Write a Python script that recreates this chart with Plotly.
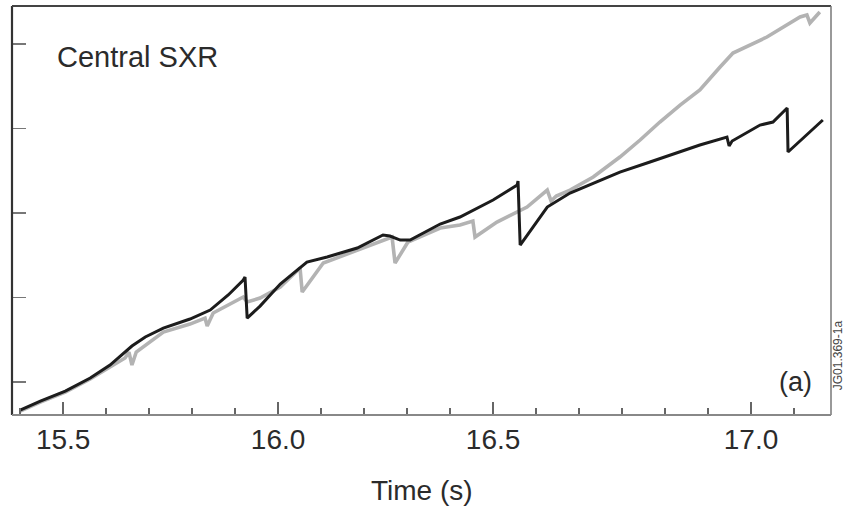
import plotly.graph_objects as go

# Black trace (sawtooth signal)
black_t = [15.400, 15.447, 15.505, 15.563, 15.609, 15.644, 15.660, 15.691, 15.733, 15.795,
           15.842, 15.884, 15.919, 15.923, 15.928, 15.958, 16.005, 16.067, 16.114, 16.184,
           16.244, 16.260, 16.284, 16.307, 16.377, 16.423, 16.500, 16.556, 16.558, 16.563,
           16.626, 16.679, 16.733, 16.795, 16.865, 16.935, 16.981, 17.044, 17.049, 17.056,
           17.121, 17.151, 17.184, 17.186, 17.226, 17.267]
black_v = [0.669, 0.775, 0.893, 1.047, 1.201, 1.355, 1.426, 1.533, 1.639, 1.746,
           1.852, 2.030, 2.207, 2.243, 1.757, 1.899, 2.160, 2.420, 2.479, 2.586,
           2.740, 2.728, 2.680, 2.680, 2.870, 2.953, 3.154, 3.331, 3.379, 2.621,
           3.071, 3.237, 3.355, 3.485, 3.604, 3.722, 3.805, 3.899, 3.793, 3.852,
           4.041, 4.077, 4.243, 3.722, 3.911, 4.101]

# Grey trace
grey_t = [15.400, 15.447, 15.505, 15.563, 15.609, 15.644, 15.653, 15.660, 15.670, 15.733,
          15.795, 15.830, 15.835, 15.849, 15.919, 15.928, 15.958, 16.005, 16.051, 16.056,
          16.105, 16.156, 16.214, 16.265, 16.272, 16.302, 16.377, 16.423, 16.453, 16.458,
          16.509, 16.579, 16.626, 16.635, 16.647, 16.679, 16.733, 16.795, 16.842, 16.888,
          16.935, 16.981, 17.028, 17.058, 17.137, 17.214, 17.230, 17.237, 17.260]
grey_v = [0.657, 0.763, 0.882, 1.036, 1.178, 1.284, 1.355, 1.201, 1.355, 1.592,
          1.686, 1.757, 1.663, 1.817, 2.006, 1.947, 1.994, 2.124, 2.349, 2.065,
          2.408, 2.503, 2.621, 2.716, 2.408, 2.657, 2.822, 2.858, 2.905, 2.716,
          2.893, 3.071, 3.272, 3.142, 3.201, 3.272, 3.426, 3.663, 3.864, 4.077,
          4.278, 4.456, 4.728, 4.893, 5.083, 5.320, 5.343, 5.249, 5.379]

x_tickvals = [15.5, 16.0, 16.5, 17.1]
x_ticktext = ["15.5", "16.0", "16.5", "17.0"]
y_tickvals = [1, 2, 3, 4, 5]

FONT = "Liberation Sans, Arial, sans-serif"
TXT = "#2b2b2b"

fig = go.Figure()
fig.add_trace(go.Scatter(x=grey_t, y=grey_v, mode="lines",
                         line=dict(color="#b3b3b3", width=3.6), hoverinfo="skip"))
fig.add_trace(go.Scatter(x=black_t, y=black_v, mode="lines",
                         line=dict(color="#1c1c1c", width=3.0), hoverinfo="skip"))

fig.update_layout(
    width=847, height=509,
    margin=dict(l=12, r=16, t=6, b=94),
    paper_bgcolor="white", plot_bgcolor="white",
    showlegend=False,
    font=dict(family=FONT, color=TXT),
    xaxis=dict(range=[15.381, 17.286], showgrid=False, zeroline=False,
               showline=False, tickmode="array", tickvals=x_tickvals, ticktext=x_ticktext,
               ticks="inside", ticklen=13, tickwidth=1.5, tickcolor="#666",
               tickfont=dict(size=28, family=FONT, color=TXT), ticklabelstandoff=5,
               minor=dict(tickmode="linear", tick0=15.4, dtick=0.1, ticks="inside",
                          ticklen=7, tickwidth=1.5, tickcolor="#666")),
    yaxis=dict(range=[0.61, 5.45], showgrid=False, zeroline=False, showline=False,
               tickmode="array", tickvals=y_tickvals, showticklabels=False,
               ticks="inside", ticklen=14, tickwidth=1.2, tickcolor="#777"),
    shapes=[
        dict(type="line", xref="paper", yref="paper", x0=0, x1=0, y0=0, y1=1,
             line=dict(color="#333", width=2.2)),
        dict(type="line", xref="paper", yref="paper", x0=0, x1=1, y0=1, y1=1,
             line=dict(color="#444", width=2)),
        dict(type="line", xref="paper", yref="paper", x0=1, x1=1, y0=0, y1=1,
             line=dict(color="#777", width=1.5)),
        dict(type="line", xref="paper", yref="paper", x0=0, x1=1, y0=0, y1=0,
             line=dict(color="#888", width=2)),
    ],
    annotations=[
        dict(text="Central SXR", xref="paper", yref="paper", x=0.052, y=0.875,
             xanchor="left", yanchor="middle", showarrow=False,
             font=dict(size=29, family=FONT, color=TXT)),
        dict(text="(a)", xref="paper", yref="paper", x=0.957, y=0.08,
             xanchor="center", yanchor="middle", showarrow=False,
             font=dict(size=27, family=FONT, color=TXT)),
        dict(text="Time (s)", xref="paper", yref="paper", x=0.5, y=-0.185,
             xanchor="center", yanchor="middle", showarrow=False,
             font=dict(size=28, family=FONT, color=TXT)),
        dict(text="JG01.369-1a", xref="paper", yref="paper", x=1.009, y=0.147,
             xanchor="center", yanchor="middle", showarrow=False, textangle=-90,
             font=dict(size=12, family=FONT, color="#444")),
    ],
)

fig.write_html("out.html", config={"displayModeBar": False, "staticPlot": True},
               post_script="document.body.style.margin='0';document.body.style.overflow='hidden';")
